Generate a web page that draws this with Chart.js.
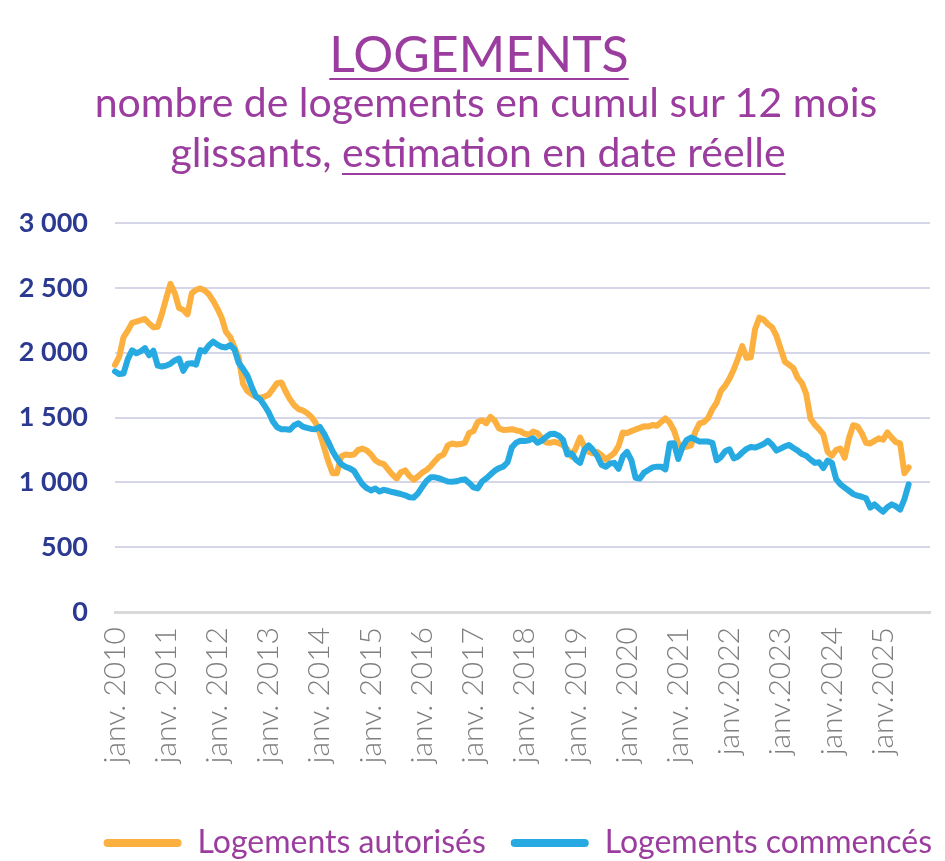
<!DOCTYPE html>
<html>
<head>
<meta charset="utf-8">
<script src="https://cdn.jsdelivr.net/npm/chart.js@4.4.1/dist/chart.umd.min.js"></script>
<style>
  html, body { margin: 0; padding: 0; background: #ffffff; }
  #wrap { position: relative; width: 945px; height: 861px; overflow: hidden; background: #ffffff; }
  #cv { position: absolute; left: 0; top: 0; }
  .ttl { position: absolute; left: 0; text-align: center; color: #9b3d9e; font-family: Lato, "Open Sans", sans-serif; white-space: nowrap; }
  #t1 { top: 28px; width: 958px; font-size: 50px; line-height: 50px; text-decoration: underline; text-decoration-thickness: 2px; text-underline-offset: 6px; }
  #t2 { top: 77px; width: 972px; font-size: 41px; line-height: 50px; }
  #t3 { top: 127px; width: 956px; font-size: 41px; line-height: 50px; }
  #t3 u { text-decoration-thickness: 2px; text-underline-offset: 6px; }
</style>
</head>
<body>
<div id="wrap">
  <canvas id="cv" width="960" height="869"></canvas>
  <div class="ttl" id="t1">LOGEMENTS</div>
  <div class="ttl" id="t2">nombre de logements en cumul sur 12 mois</div>
  <div class="ttl" id="t3">glissants, <u>estimation en date réelle</u></div>
</div>
<script>
// ---- Data ----
const years = [2010, 2011, 2012, 2013, 2014, 2015, 2016, 2017, 2018, 2019, 2020, 2021, 2022, 2023, 2024, 2025];
const yearTickLabels = ['janv. 2010', 'janv. 2011', 'janv. 2012', 'janv. 2013', 'janv. 2014', 'janv. 2015',
  'janv. 2016', 'janv. 2017', 'janv. 2018', 'janv. 2019', 'janv. 2020', 'janv. 2021',
  'janv.2022', 'janv.2023', 'janv.2024', 'janv.2025'];

const autorises = [
  1906, 1970, 2120, 2170, 2230, 2240, 2250, 2260, 2225, 2195, 2200, 2300,
  2420, 2530, 2460, 2345, 2330, 2295, 2460, 2485, 2495, 2480, 2450, 2400,
  2340, 2270, 2160, 2120, 2040, 1960, 1760, 1705, 1680, 1660, 1652, 1660,
  1675, 1720, 1765, 1770, 1700, 1640, 1595, 1565, 1555, 1535, 1505, 1460,
  1380, 1270, 1160, 1070, 1070, 1200, 1215, 1211, 1215, 1250, 1260, 1245,
  1215, 1170, 1150, 1140, 1100, 1060, 1030, 1078, 1092, 1050, 1020, 1045,
  1075, 1095, 1125, 1165, 1200, 1215, 1285, 1300, 1292, 1295, 1305, 1380,
  1395, 1465, 1478, 1456, 1505, 1475, 1415, 1404, 1406, 1410, 1400, 1395,
  1375, 1368, 1391, 1380, 1340, 1308, 1305, 1312, 1302, 1285, 1255, 1198,
  1265, 1345, 1275, 1235, 1224, 1235, 1210, 1175, 1200, 1225, 1280, 1385,
  1381, 1395, 1408, 1420, 1432, 1430, 1442, 1436, 1465, 1493, 1460, 1400,
  1300, 1268, 1275, 1285, 1390, 1455, 1465, 1495, 1565, 1615, 1705, 1745,
  1800, 1870, 1955, 2050, 1960, 1965, 2180, 2270, 2255, 2220, 2195, 2130,
  2030, 1930, 1905, 1880, 1805, 1765, 1680, 1490, 1445, 1410, 1370, 1235,
  1205, 1250, 1260, 1190, 1340, 1440, 1432, 1380, 1305, 1300, 1320, 1340,
  1328, 1385, 1345, 1310, 1300, 1070, 1115
];

const commences = [
  1855, 1835, 1840, 1950, 2018, 1995, 2010, 2035, 1980, 2015, 1900, 1893,
  1900, 1915, 1940, 1955, 1860, 1915, 1919, 1908, 2020, 2010, 2055, 2085,
  2062, 2045, 2040, 2058, 2025, 1920, 1875, 1825, 1740, 1665, 1640, 1595,
  1540, 1470, 1425, 1410, 1410, 1405, 1440, 1455, 1430, 1420, 1412, 1410,
  1428, 1375, 1310, 1240, 1185, 1140, 1120, 1108, 1088, 1035, 985, 955,
  938, 952, 930, 942, 935, 925, 918, 910, 900, 885, 882, 915,
  965, 1010, 1039, 1039, 1030, 1018, 1006, 1005, 1008, 1018, 1023, 995,
  962, 953, 1005, 1030, 1060, 1090, 1110, 1121, 1155, 1270, 1305, 1320,
  1318, 1325, 1340, 1305, 1320, 1350, 1372, 1375, 1360, 1327, 1215, 1222,
  1175, 1150, 1250, 1285, 1250, 1205, 1135, 1120, 1145, 1150, 1105, 1200,
  1235, 1172, 1035, 1030, 1075, 1095, 1115, 1121, 1121, 1100, 1300, 1301,
  1180, 1275, 1328, 1345, 1330, 1314, 1314, 1314, 1305, 1170, 1195, 1240,
  1255, 1185, 1198, 1230, 1258, 1273, 1268, 1280, 1295, 1320, 1290, 1245,
  1260, 1278, 1288, 1265, 1245, 1218, 1205, 1175, 1150, 1155, 1110, 1168,
  1150, 1025, 985, 960, 935, 910, 897, 889, 877, 805, 830, 800,
  773, 808, 830, 815, 790, 870, 985
];

const seriesNames = ['Logements autorisés', 'Logements commencés'];
const yTicks = { min: 0, max: 3000, step: 500 };

// monthly categories Jan 2010 .. Dec 2025
const months = [];
years.forEach(y => { for (let m = 1; m <= 12; m++) months.push(y + '-' + String(m).padStart(2, '0')); });

function fmtThousands(v) {
  return String(v).replace(/\B(?=(\d{3})+(?!\d))/g, ' ');
}

const ORANGE = '#fbb040';
const BLUE = '#27aae1';
const PURPLE = '#9b3d9e';

new Chart(document.getElementById('cv'), {
  type: 'line',
  data: {
    labels: months,
    datasets: [
      { label: seriesNames[0], data: autorises, borderColor: ORANGE, backgroundColor: ORANGE,
        borderWidth: 6, pointRadius: 0, tension: 0, order: 1,
        borderJoinStyle: 'round', borderCapStyle: 'round' },
      { label: seriesNames[1], data: commences, borderColor: BLUE, backgroundColor: BLUE,
        borderWidth: 6, pointRadius: 0, tension: 0, order: 0,
        borderJoinStyle: 'round', borderCapStyle: 'round' }
    ]
  },
  options: {
    responsive: false,
    animation: false,
    layout: { padding: { top: 223, left: 18, right: 3, bottom: 0 } },
    plugins: {
      tooltip: { enabled: false },
      title: { display: false },
      legend: {
        position: 'bottom',
        align: 'end',
        labels: {
          boxWidth: 78,
          boxHeight: 8,
          padding: 25,
          color: PURPLE,
          font: { family: 'Lato', size: 32 },
          useBorderRadius: true,
          borderRadius: 4,
          sort: (a, b) => a.datasetIndex - b.datasetIndex,
          generateLabels: (chart) => {
            const items = Chart.defaults.plugins.legend.labels.generateLabels(chart);
            items.forEach(it => { it.fillStyle = it.strokeStyle; it.lineWidth = 0; });
            return items;
          }
        }
      }
    },
    scales: {
      x: {
        grid: { display: false, drawTicks: false },
        border: { display: true, color: '#d9d9d9', width: 3 },
        ticks: {
          autoSkip: false, minRotation: 90, maxRotation: 90, padding: 15,
          color: '#7f7f7f',
          font: { family: 'Lato', size: 30, weight: 300 },
          callback: (val, idx) => (idx % 12 === 0 ? yearTickLabels[idx / 12] : null)
        },
        afterFit: (s) => { s.paddingRight = 30; s.height = 190; }
      },
      y: {
        min: yTicks.min, max: yTicks.max,
        grid: { color: '#d6d6e9', lineWidth: 2, drawTicks: false },
        border: { display: false },
        ticks: {
          stepSize: yTicks.step, padding: 27,
          color: '#2b3990',
          font: { family: 'Lato', size: 27, weight: 'bold' },
          callback: (v) => fmtThousands(v)
        },
        afterFit: (s) => { s.width = 97; }
      }
    }
  }
});
</script>
</body>
</html>
